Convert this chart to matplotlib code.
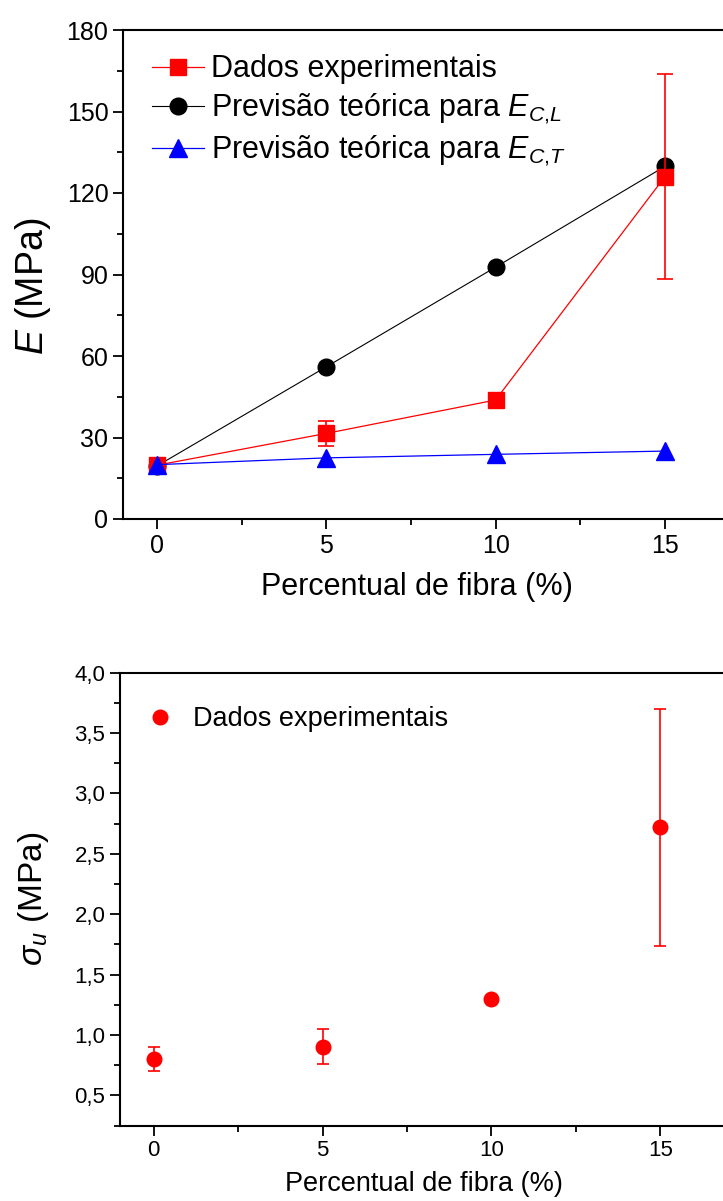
import numpy as np
import matplotlib
matplotlib.use("Agg")
import matplotlib.pyplot as plt
from matplotlib.lines import Line2D
from matplotlib.ticker import MultipleLocator, FuncFormatter

plt.rcParams['font.family'] = ['Liberation Sans', 'DejaVu Sans']
plt.rcParams['mathtext.fontset'] = 'custom'
plt.rcParams['mathtext.rm'] = 'Liberation Sans'
plt.rcParams['mathtext.it'] = 'Liberation Sans:italic'
plt.rcParams['mathtext.bf'] = 'Liberation Sans:bold'

# Percentual de fibra (%)
fibra = [0, 5, 10, 15]

# Módulo de elasticidade (MPa)
E_exp = [19.8, 31.5, 43.8, 126.0]
E_exp_err = [1.5, 4.5, 0.0, 37.7]
E_CL = [19.5, 56.0, 92.7, 129.8]
E_CT = [20.0, 22.5, 23.8, 25.0]

# Tensão última (MPa)
sigma_u = [0.80, 0.90, 1.30, 2.72]
sigma_u_err = [0.10, 0.145, 0.0, 0.98]

W, H = 723, 1201
fig = plt.figure(figsize=(W / 100, H / 100), dpi=100)

RED = '#ff0000'
BLUE = '#0000ff'


def style_axes(ax, tick_size):
    for side in ['left', 'bottom', 'top']:
        ax.spines[side].set_linewidth(1.5)
    ax.spines['right'].set_visible(False)
    ax.tick_params(which='both', direction='out', top=False, right=False,
                   width=1.3, labelsize=tick_size)
    ax.tick_params(which='major', length=7)
    ax.tick_params(which='minor', length=4)
    ax.xaxis.set_major_locator(MultipleLocator(5))
    ax.xaxis.set_minor_locator(MultipleLocator(2.5))


# --- E vs fibra ---
ax1 = fig.add_axes([123 / W, 1 - 519 / H, 626.6 / W, 489 / H])
ax1.errorbar(fibra, E_exp, yerr=E_exp_err, color=RED, marker='s',
             markersize=11, linewidth=0.9, elinewidth=1.2, capsize=5.5,
             capthick=1.2, zorder=3)
ax1.plot(fibra, E_CL, color='black', marker='o', markersize=12,
         linewidth=0.8, zorder=2)
ax1.plot(fibra, E_CT, color=BLUE, marker='^', markersize=13,
         linewidth=0.9, zorder=4)
ax1.set_xlim(-1, 17.5)
ax1.set_ylim(0, 180)
ax1.yaxis.set_major_locator(MultipleLocator(30))
ax1.yaxis.set_minor_locator(MultipleLocator(15))
style_axes(ax1, 18)
ax1.set_xlabel('Percentual de fibra (%)', fontsize=22)
ax1.xaxis.set_label_coords(0.469, -0.108)
ax1.set_ylabel('$E$ (MPa)', fontsize=27)
ax1.yaxis.set_label_coords(-0.112, 0.475)

handles1 = [
    Line2D([], [], color=RED, marker='s', markersize=11, linewidth=0.9),
    Line2D([], [], color='black', marker='o', markersize=12, linewidth=0.8),
    Line2D([], [], color=BLUE, marker='^', markersize=13, linewidth=0.9),
]
labels1 = ['Dados experimentais',
           'Previsão teórica para $E_{C{,}L}$',
           'Previsão teórica para $E_{C{,}T}$']
ax1.legend(handles1, labels1, fontsize=22, loc='upper left',
           bbox_to_anchor=(0.046, 0.95), frameon=False, borderaxespad=0,
           borderpad=0, handlelength=1.7, handletextpad=0.25,
           labelspacing=0.25, numpoints=1)

# --- sigma_u vs fibra ---
ax2 = fig.add_axes([120 / W, 1 - 1125.5 / H, 624.7 / W, 453 / H])
ax2.errorbar(fibra, sigma_u, yerr=sigma_u_err, color=RED, marker='o',
             markersize=10.5, linestyle='none', elinewidth=1.2, capsize=4.5,
             capthick=1.2)
ax2.set_xlim(-1, 17.5)
ax2.set_ylim(0.25, 4.0)
ax2.yaxis.set_major_locator(MultipleLocator(0.5))
ax2.yaxis.set_minor_locator(MultipleLocator(0.25))
ax2.yaxis.set_major_formatter(FuncFormatter(lambda v, p: f'{v:.1f}'.replace('.', ',')))
style_axes(ax2, 16)
ax2.set_xlabel('Percentual de fibra (%)', fontsize=19.5)
ax2.xaxis.set_label_coords(0.487, -0.1)
ax2.set_ylabel(r'$\sigma_u$ (MPa)', fontsize=24)
ax2.yaxis.set_label_coords(-0.11, 0.5)

handles2 = [Line2D([], [], color=RED, marker='o', markersize=10.5, linestyle='none')]
ax2.legend(handles2, ['Dados experimentais'], fontsize=19.5, loc='upper left',
           bbox_to_anchor=(0.043, 0.925), frameon=False, borderaxespad=0,
           borderpad=0, handlelength=1.0, handletextpad=0.7, numpoints=1)

fig.savefig('out.png', dpi=100)
